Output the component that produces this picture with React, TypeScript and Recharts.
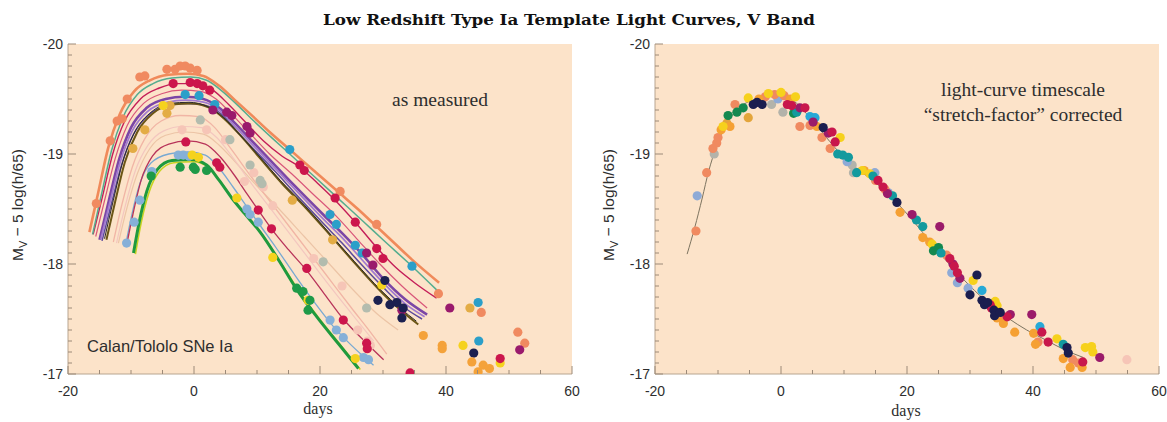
import React from 'react';
import { ComposedChart, Line, Scatter, XAxis, YAxis, CartesianGrid } from 'recharts';

// ---- axis ticks / labels ----
const xTickLabels = [-20, 0, 20, 40, 60];
const yTickLabels = [-20, -19, -18, -17];
const xTickValues = Array.from({ length: 17 }, (_, i) => -20 + i * 5);
const yTickValues = Array.from({ length: 31 }, (_, i) => Number((-20 + i * 0.1).toFixed(1)));

// ---- left panel: template fits, [day, mag] ----
const orangeCurve = [[-16.6, -18.29], [-15.2, -18.65], [-13.6, -19.06], [-11.8, -19.36], [-9.5, -19.57], [-7, -19.67], [-4, -19.72], [-1, -19.73], [1.5, -19.71], [4, -19.62], [6.5, -19.49], [9, -19.36], [12, -19.2], [15.2, -19.04], [19, -18.85], [23.2, -18.64], [26, -18.5], [29, -18.34], [32, -18.18], [34.6, -18.04], [38.9, -17.83]];
const tealCurve = [[-16.1, -18.27], [-14.7, -18.63], [-13.1, -19.03], [-11.3, -19.33], [-9, -19.54], [-6.5, -19.64], [-3.5, -19.69], [-0.5, -19.7], [2, -19.67], [4.5, -19.57], [7, -19.44], [9.5, -19.3], [12.5, -19.14], [15.2, -19.0], [19, -18.8], [23, -18.59], [27, -18.38], [30, -18.22], [34.6, -17.98], [38.6, -17.76]];
const crimsonCurve = [[-16, -18.27], [-14.5, -18.62], [-12.9, -19.0], [-11, -19.3], [-8.5, -19.5], [-5.5, -19.6], [-2.5, -19.64], [0.5, -19.64], [3, -19.58], [5.5, -19.45], [8, -19.3], [11, -19.12], [14, -18.98], [16.8, -18.88], [19.5, -18.74], [22.4, -18.58], [25.6, -18.38], [29, -18.15], [32, -17.97], [35, -17.83], [38.5, -17.69]];
const pinkRedCurve = [[-15.6, -18.25], [-14.1, -18.6], [-12.5, -18.96], [-10.6, -19.26], [-8, -19.46], [-5, -19.55], [-2, -19.58], [1, -19.57], [3.5, -19.5], [6, -19.36], [9, -19.18], [12, -19.0], [15.5, -18.82], [19, -18.63], [22.5, -18.44], [26, -18.22], [29.5, -18.0], [33, -17.8], [37, -17.6]];
const purpleCurve1 = [[-15, -18.22], [-13.5, -18.58], [-11.9, -18.95], [-10, -19.24], [-7.5, -19.42], [-4.5, -19.5], [-1.5, -19.52], [1.5, -19.5], [4, -19.42], [6.5, -19.28], [9.5, -19.1], [12.5, -18.92], [16, -18.71], [20.5, -18.45], [23.5, -18.28], [26.5, -18.1], [30, -17.87], [33.5, -17.68], [37, -17.54]];
const purpleCurve2 = [[-14.8, -18.22], [-13.3, -18.57], [-11.7, -18.93], [-9.8, -19.21], [-7.3, -19.39], [-4.3, -19.47], [-1.3, -19.49], [1.7, -19.47], [4.2, -19.39], [6.7, -19.24], [9.7, -19.06], [12.7, -18.88], [16.2, -18.67], [20.5, -18.41], [23.5, -18.24], [26.5, -18.05], [30, -17.83], [33.5, -17.64], [36.6, -17.52]];
const purpleCurve3 = [[-14.6, -18.21], [-13.1, -18.55], [-11.5, -18.9], [-9.6, -19.18], [-7.1, -19.36], [-4.1, -19.44], [-1.1, -19.46], [1.9, -19.44], [4.4, -19.36], [6.9, -19.2], [9.9, -19.02], [12.9, -18.84], [16.4, -18.62], [20.5, -18.37], [23.5, -18.19], [26.5, -18.0], [30, -17.79], [33.5, -17.6], [36.2, -17.5]];
const oliveCurve = [[-13.9, -18.22], [-12.5, -18.57], [-11, -18.92], [-9, -19.2], [-6.5, -19.37], [-3.5, -19.45], [-0.5, -19.46], [2.5, -19.42], [5, -19.31], [7.5, -19.16], [10.5, -18.96], [14, -18.73], [17.9, -18.5], [21.5, -18.27], [25.8, -17.99], [30, -17.73], [33, -17.57], [35.6, -17.45]];
const blackCurve = [[-14.2, -18.23], [-12.8, -18.58], [-11.3, -18.93], [-9.3, -19.21], [-6.8, -19.38], [-3.8, -19.46], [-0.8, -19.47], [2.2, -19.43], [4.7, -19.33], [7.2, -19.18], [10.2, -18.99], [13.7, -18.76], [17.6, -18.53], [21.2, -18.3], [25.5, -18.02], [29.7, -17.76], [32.7, -17.6], [35.3, -17.48]];
const faintCurve1 = [[-12.8, -18.2], [-11.4, -18.55], [-9.8, -18.88], [-7.8, -19.14], [-5.2, -19.3], [-2.2, -19.35], [0.8, -19.34], [3.3, -19.24], [5.7, -19.06], [9, -18.8], [13, -18.5], [17, -18.2], [21, -17.9], [25, -17.6], [28, -17.38], [30.6, -17.18]];
const faintCurve2 = [[-12.3, -18.19], [-10.9, -18.53], [-9.3, -18.85], [-7.3, -19.08], [-4.8, -19.21], [-1.8, -19.25], [1.2, -19.24], [3.6, -19.15], [6, -18.98], [9, -18.74], [13, -18.44], [17, -18.14], [21, -17.84], [25, -17.55], [28.5, -17.3]];
const faintCurve3 = [[-12, -18.19], [-10.6, -18.52], [-9, -18.82], [-7, -19.05], [-4.5, -19.17], [-1.5, -19.2], [1.5, -19.18], [4, -19.08], [6.5, -18.93], [9.5, -18.74], [13.5, -18.5], [17.5, -18.25], [21.5, -18.0], [25.5, -17.75], [29, -17.55], [32.4, -17.4]];
const lowCrimsonCurve = [[-10.7, -18.17], [-9.7, -18.45], [-8.4, -18.76], [-6.6, -18.98], [-4, -19.09], [-1, -19.12], [1.8, -19.09], [4.2, -18.97], [6.5, -18.8], [8.5, -18.63], [10.2, -18.49], [12.3, -18.32], [15, -18.13], [17.9, -17.94], [20.8, -17.72], [23.7, -17.5], [27.4, -17.28], [30.1, -17.13]];
const lightBlueCurve = [[-10.9, -18.16], [-9.9, -18.44], [-8.6, -18.73], [-6.8, -18.92], [-4, -19.0], [-1, -19.02], [1.8, -18.99], [4, -18.87], [6.2, -18.7], [8.4, -18.52], [10.5, -18.35], [13, -18.15], [16, -17.9], [19, -17.66], [22, -17.44], [25, -17.26], [28.5, -17.08]];
const greenCurve = [[-9.6, -18.1], [-8.7, -18.38], [-7.5, -18.66], [-5.8, -18.86], [-3.5, -18.94], [-0.5, -18.95], [2, -18.9], [4, -18.76], [6, -18.6], [8, -18.46], [10.5, -18.29], [13.5, -18.03], [16.3, -17.77], [19.5, -17.52], [23, -17.27], [26.1, -17.05]];
const yellowGreenCurve = [[-9.3, -18.09], [-8.4, -18.37], [-7.2, -18.64], [-5.5, -18.84], [-3.2, -18.92], [-0.2, -18.93], [2.3, -18.88], [4.3, -18.74], [6.3, -18.58], [8.3, -18.44], [10.8, -18.27], [13.8, -18.01], [16.6, -17.76], [19.8, -17.51], [23.3, -17.26], [26.4, -17.04]];

// ---- left panel: measured points ----
const leftSalmon = [[-15.5, -18.55], [-13.3, -19.12], [-12.2, -19.3], [-11.4, -19.32], [-10.6, -19.5], [-8.6, -19.7], [-7.8, -19.71], [-4.3, -19.77], [-3, -19.77], [-2.2, -19.8], [-1.4, -19.8], [-0.6, -19.78], [0.5, -19.76], [23.2, -18.66], [29, -18.36], [38.8, -17.73], [45.6, -17.56], [51.4, -17.38], [52.5, -17.28]];
const leftCrimson = [[-3.3, -19.64], [-0.6, -19.65], [0.5, -19.64], [1.4, -19.62], [2.5, -19.58], [-1.3, -19.11], [3.6, -18.92], [4.1, -18.88], [16.8, -18.9], [17.5, -18.85], [22.4, -18.6], [25.6, -18.38], [29, -18.14], [30, -18.05], [10.2, -18.49], [12.3, -18.32], [17.9, -17.96], [23.7, -17.49], [27.4, -17.28], [27.5, -17.23], [34.3, -17.01], [48.6, -17.14]];
const leftMagenta = [[3, -19.4], [5.2, -19.38], [6, -19.35], [8.4, -19.25], [8.9, -19.19], [27.4, -18.1], [28.4, -17.99], [33, -17.58], [40.6, -17.6], [51.7, -17.22]];
const leftCyan = [[-1.4, -19.54], [0.8, -19.53], [3.3, -19.45], [15.2, -19.04], [21.6, -18.45], [22.6, -18.36], [25.6, -18.17], [26.7, -18.1], [34.6, -17.98], [45.1, -17.65], [45.2, -17.3]];
const leftLightBlue = [[-10.7, -18.19], [-9.5, -18.38], [-8.6, -18.58], [-6.7, -18.84], [-2.5, -18.99], [-1.7, -18.99], [-0.8, -18.98], [8.4, -18.5], [8.9, -18.45], [10.2, -18.38], [21.6, -17.49], [22.6, -17.4], [23.7, -17.33], [26.9, -17.15], [27.7, -17.13]];
const leftYellow = [[-4.9, -19.44], [-0.3, -18.99], [0.7, -18.97], [6.8, -18.6], [12.5, -18.06], [18.1, -17.67], [25.6, -17.14], [29.8, -17.81], [42.7, -17.26], [48.6, -17.1]];
const leftGreen = [[-6.8, -18.8], [-2.2, -18.88], [-0.1, -18.88], [0.2, -18.86], [2, -18.85], [16.3, -17.78], [17.3, -17.75], [18.4, -17.67], [18.1, -17.58]];
const leftNavy = [[29.2, -17.67], [31.1, -17.63], [32.2, -17.65], [33.2, -17.6], [33, -17.51], [30.3, -17.85], [44.4, -17.19]];
const leftAmber = [[36.4, -17.35], [39.4, -17.26], [39.4, -17.23], [44.1, -17.11], [45.1, -17.02], [45.9, -17.08], [46.9, -17.05]];
const leftMustard = [[-9.7, -19.05], [-7.8, -19.22], [-4.3, -19.37], [-3.8, -19.44], [15.6, -18.58], [22, -18.22], [43.8, -17.6]];
const leftFaint = [[-1.9, -19.22], [2, -19.22], [5, -19.13], [8, -18.75], [9.5, -18.83], [11, -18.7], [12.5, -18.53], [19, -18.05], [23.5, -17.8], [26, -17.4], [27.5, -17.3], [28, -17.26]];
const leftGrey = [[1, -19.31], [5.7, -19.13], [8.9, -18.9], [10.5, -18.76], [10.8, -18.73], [20.5, -18.02], [27.4, -17.6]];

// ---- right panel: stretch-corrected template and points ----
const templateCurve = [[-14.9, -18.09], [-13.7, -18.33], [-12.5, -18.6], [-11.5, -18.84], [-10.3, -19.06], [-9, -19.24], [-7, -19.4], [-4, -19.5], [-1, -19.53], [1.5, -19.5], [4, -19.37], [6.5, -19.2], [9, -19.03], [12, -18.87], [15, -18.74], [18, -18.58], [21, -18.39], [24, -18.18], [27, -17.98], [30, -17.8], [33, -17.64], [36, -17.51], [39, -17.4], [42, -17.31], [45, -17.22], [48, -17.15]];
const rightSalmon = [[-13.5, -18.3], [-11.8, -18.83], [-10.8, -19.05], [-10.2, -19.1], [-10, -19.15], [-7.3, -19.45], [-2.5, -19.52], [-1, -19.54], [0.5, -19.53], [3, -19.25], [4.6, -19.26], [6.5, -19.15], [7.8, -19.05], [15, -18.76], [16.5, -18.68], [26.3, -18.08], [35.1, -17.51], [40.8, -17.29], [46.3, -17.13], [47.2, -17.1]];
const rightOrange = [[-9.5, -19.22], [-8.1, -19.25], [-3.5, -19.5], [1.5, -19.5], [5.7, -19.25], [13.2, -18.85], [18.9, -18.47], [22.5, -18.24], [23.6, -18.2], [34.3, -17.51], [35.3, -17.46], [37.1, -17.38], [40.1, -17.37], [40.4, -17.27], [44.8, -17.14], [45.9, -17.06], [47.8, -17.06]];
const rightYellow = [[-9.2, -19.25], [-5.2, -19.51], [-2, -19.55], [0, -19.56], [2.3, -19.52], [9.4, -19.15], [12.9, -18.85], [14.1, -18.82], [24, -18.18], [30.5, -17.85], [34, -17.66], [34.3, -17.62], [43.8, -17.32], [48.3, -17.24], [49.3, -17.25], [49.5, -17.2]];
const rightMustard = [[-8.6, -19.28], [-5.2, -19.33]];
const rightGreen = [[-8.4, -19.35], [-7, -19.38], [-6, -19.42], [2, -19.37], [24.2, -18.12], [25, -18.15]];
const rightNavy = [[-4.4, -19.45], [-3.8, -19.47], [-3, -19.45], [6.7, -19.24], [18.4, -18.56], [31.1, -17.9], [30, -17.72], [31.9, -17.67], [32.3, -17.63], [32.8, -17.65], [33.8, -17.58], [33.9, -17.53], [34.8, -17.56], [45.4, -17.24], [45.6, -17.19]];
const rightCrimson = [[1, -19.45], [1.7, -19.44], [3.8, -19.42], [8.1, -19.2], [8.6, -19.11], [15.4, -18.76], [16.2, -18.7], [26.8, -18.05], [27.5, -17.98], [28, -17.92], [33.2, -17.63], [33.4, -17.6], [35.9, -17.52], [41.4, -17.38], [42.4, -17.29], [47.9, -17.11]];
const rightMagenta = [[3, -19.42], [5.1, -19.29], [7.5, -19.19], [16.9, -18.64], [20.8, -18.45], [25.2, -18.34], [27.3, -18.0], [28.4, -17.87], [36.4, -17.54], [39.8, -17.54], [50.6, -17.15]];
const rightTeal = [[2.5, -19.38], [9, -19.0], [9.8, -18.99], [10.7, -18.97], [12, -18.83], [14.6, -18.8], [17.7, -18.62], [21.5, -18.4], [22.5, -18.34], [25.4, -18.1], [44.8, -17.27]];
const rightCyan = [[4.6, -19.34], [5.4, -19.33], [31.9, -17.76], [41.1, -17.43]];
const rightLightBlue = [[-13.3, -18.62], [-0.5, -19.5], [10.5, -18.93], [14.9, -18.83], [17, -18.65], [27.1, -17.92], [28, -17.83], [29.7, -17.78]];
const rightGrey = [[-10.6, -19.0], [-1.5, -19.45], [0.3, -19.38], [11.3, -18.9], [11.5, -18.83]];
const rightFaint = [[54.9, -17.13]];

const PLOT_BG = '#fce3c9';
const FRAME = '#b8a590';
const TICK = '#9c8a78';
const LABEL = '#2e2e2e';
const SANS = '"Liberation Sans", Arial, sans-serif';
const SERIF = '"Liberation Serif", "Times New Roman", serif';

const toPts = (arr: number[][]) => arr.map(([x, y]) => ({ x, y }));
const isMajorY = (v: number) => Math.abs(v - Math.round(v)) < 1e-6;

const leftLines = [
  { data: faintCurve3, color: '#ecc4a6', width: 1.2 },
  { data: faintCurve2, color: '#f3c6bf', width: 1.2 },
  { data: faintCurve1, color: '#f1b5a5', width: 1.3 },
  { data: lightBlueCurve, color: '#78a9d2', width: 1.3 },
  { data: lowCrimsonCurve, color: '#b8345a', width: 1.3 },
  { data: purpleCurve3, color: '#5b4a9c', width: 1.5 },
  { data: purpleCurve1, color: '#7b46a6', width: 2.6 },
  { data: purpleCurve2, color: '#a07ad0', width: 1.8 },
  { data: oliveCurve, color: '#6b5616', width: 2 },
  { data: blackCurve, color: '#2b2b2b', width: 1 },
  { data: pinkRedCurve, color: '#d9577a', width: 1.2 },
  { data: crimsonCurve, color: '#c41e58', width: 1.4 },
  { data: tealCurve, color: '#55ad8e', width: 1.5 },
  { data: orangeCurve, color: '#f08a5a', width: 2.6 },
  { data: yellowGreenCurve, color: '#c6d420', width: 1.6 },
  { data: greenCurve, color: '#1f9a3e', width: 3 },
];

const leftDots = [
  { data: leftFaint, color: '#f6c5b7' },
  { data: leftGrey, color: '#b3bcae' },
  { data: leftMustard, color: '#e3ac45' },
  { data: leftSalmon, color: '#f08a60' },
  { data: leftLightBlue, color: '#86b0d8' },
  { data: leftYellow, color: '#f5d21e' },
  { data: leftGreen, color: '#1e9a48' },
  { data: leftCyan, color: '#2b9fc9' },
  { data: leftMagenta, color: '#9a1a6c' },
  { data: leftCrimson, color: '#cc164c' },
  { data: leftNavy, color: '#1b2050' },
  { data: leftAmber, color: '#f4a23a' },
];

const rightLines = [{ data: templateCurve, color: '#7d7460', width: 1 }];

const rightDots = [
  { data: rightFaint, color: '#f6c5b7' },
  { data: rightGrey, color: '#b3b3aa' },
  { data: rightLightBlue, color: '#8eaad6' },
  { data: rightMustard, color: '#e3a53b' },
  { data: rightSalmon, color: '#f08a60' },
  { data: rightOrange, color: '#f5a033' },
  { data: rightYellow, color: '#f6d11c' },
  { data: rightGreen, color: '#14894f' },
  { data: rightTeal, color: '#139a9e' },
  { data: rightCyan, color: '#27a9d6' },
  { data: rightMagenta, color: '#9b1b6a' },
  { data: rightCrimson, color: '#c8174c' },
  { data: rightNavy, color: '#1b1e4f' },
];

const BottomTick = ({ x, y, payload }: any) => {
  const major = xTickLabels.includes(payload.value);
  return (
    <g>
      <line x1={x} x2={x} y1={y} y2={y - (major ? 8 : 4)} stroke={TICK} />
      {major && (
        <text x={x} y={y + 22} textAnchor="middle" fontSize={14} fill={LABEL} fontFamily={SANS}>
          {payload.value}
        </text>
      )}
    </g>
  );
};

const TopTick = ({ x, y, payload }: any) => {
  const major = xTickLabels.includes(payload.value);
  return <line x1={x} x2={x} y1={y} y2={y + (major ? 8 : 4)} stroke={TICK} />;
};

const LeftTick = ({ x, y, payload }: any) => {
  const major = isMajorY(payload.value);
  return (
    <g>
      <line x1={x} x2={x + (major ? 8 : 4)} y1={y} y2={y} stroke={TICK} />
      {major && yTickLabels.includes(Math.round(payload.value)) && (
        <text x={x - 5} y={y + 5} textAnchor="end" fontSize={14} fill={LABEL} fontFamily={SANS}>
          {Math.round(payload.value)}
        </text>
      )}
    </g>
  );
};

const RightTick = ({ x, y, payload }: any) => {
  const major = isMajorY(payload.value);
  return <line x1={x} x2={x - (major ? 8 : 4)} y1={y} y2={y} stroke={TICK} />;
};

const dotShape = (color: string) => (p: any) => <circle cx={p.cx} cy={p.cy} r={4.6} fill={color} />;

function Panel({ lines, dots, width, yWidth, right }: any) {
  return (
    <ComposedChart width={width} height={422} margin={{ top: 44, right, bottom: 0, left: 0 }}>
      <CartesianGrid fill={PLOT_BG} stroke="none" horizontal={false} vertical={false} />
      <XAxis type="number" dataKey="x" domain={[-20, 60]} allowDataOverflow ticks={xTickValues} interval={0}
        height={48} tickSize={0} tickMargin={0} tickLine={false} axisLine={{ stroke: FRAME }}
        tick={(p: any) => <BottomTick {...p} />} />
      <XAxis xAxisId="top" orientation="top" type="number" dataKey="x" domain={[-20, 60]} allowDataOverflow
        ticks={xTickValues} interval={0} height={0} tickSize={0} tickMargin={0} tickLine={false}
        axisLine={{ stroke: FRAME }} tick={(p: any) => <TopTick {...p} />} />
      <YAxis type="number" dataKey="y" domain={[-20, -17]} reversed allowDataOverflow ticks={yTickValues} interval={0}
        width={yWidth} tickSize={0} tickMargin={0} tickLine={false} axisLine={{ stroke: FRAME }}
        tick={(p: any) => <LeftTick {...p} />} />
      <YAxis yAxisId="right" orientation="right" type="number" dataKey="y" domain={[-20, -17]} reversed allowDataOverflow
        ticks={yTickValues} interval={0} width={0} tickSize={0} tickMargin={0} tickLine={false}
        axisLine={{ stroke: FRAME }} tick={(p: any) => <RightTick {...p} />} />
      {lines.map((c: any, i: number) => (
        <Line key={'l' + i} data={toPts(c.data)} dataKey="y" type="monotone" stroke={c.color}
          strokeWidth={c.width} dot={false} activeDot={false} isAnimationActive={false} />
      ))}
      {dots.map((d: any, i: number) => (
        <Scatter key={'s' + i} data={toPts(d.data)} dataKey="y" fill={d.color}
          shape={dotShape(d.color)} isAnimationActive={false} />
      ))}
    </ComposedChart>
  );
}

const YLabel = ({ x }: { x: number }) => (
  <text transform={`translate(${x},205) rotate(-90)`} textAnchor="middle" fontSize={15.5} fill={LABEL} fontFamily={SANS}>
    M<tspan fontSize={11} dy={4}>V</tspan>
    <tspan dy={-4}>{' \u2212 5 log(h/65)'}</tspan>
  </text>
);

export default function App() {
  return (
    <div style={{ position: 'absolute', left: 0, top: 0, width: 1167, height: 422, background: '#fff', overflow: 'hidden' }}>
      <div style={{ position: 'absolute', left: 0, top: 0 }}>
        <Panel lines={leftLines} dots={leftDots} width={583} yWidth={68} right={11} />
      </div>
      <div style={{ position: 'absolute', left: 583, top: 0 }}>
        <Panel lines={rightLines} dots={rightDots} width={584} yWidth={72} right={8} />
      </div>
      <svg width={1167} height={422} style={{ position: 'absolute', left: 0, top: 0, pointerEvents: 'none' }}>
        <text x={569} y={25} textAnchor="middle" fontSize={14} fontWeight="bold" fill="#111"
          fontFamily='"DejaVu Serif", serif' textLength={492} lengthAdjust="spacingAndGlyphs">
          Low Redshift Type Ia Template Light Curves, V Band
        </text>
        <YLabel x={23} />
        <YLabel x={614} />
        <text x={440} y={106} textAnchor="middle" fontSize={19.5} fill={LABEL} fontFamily={SERIF}>as measured</text>
        <text x={87} y={352} fontSize={16.5} fill={LABEL} fontFamily={SANS}>Calan/Tololo SNe Ia</text>
        <text x={1023} y={96} textAnchor="middle" fontSize={19.5} fill={LABEL} fontFamily={SERIF}>light-curve timescale</text>
        <text x={1023} y={121} textAnchor="middle" fontSize={19.5} fill={LABEL} fontFamily={SERIF}>{'\u201Cstretch-factor\u201D corrected'}</text>
        <text x={318} y={414} textAnchor="middle" fontSize={16} fill={LABEL} fontFamily={SERIF}>days</text>
        <text x={906} y={416} textAnchor="middle" fontSize={16} fill={LABEL} fontFamily={SERIF}>days</text>
      </svg>
    </div>
  );
}
